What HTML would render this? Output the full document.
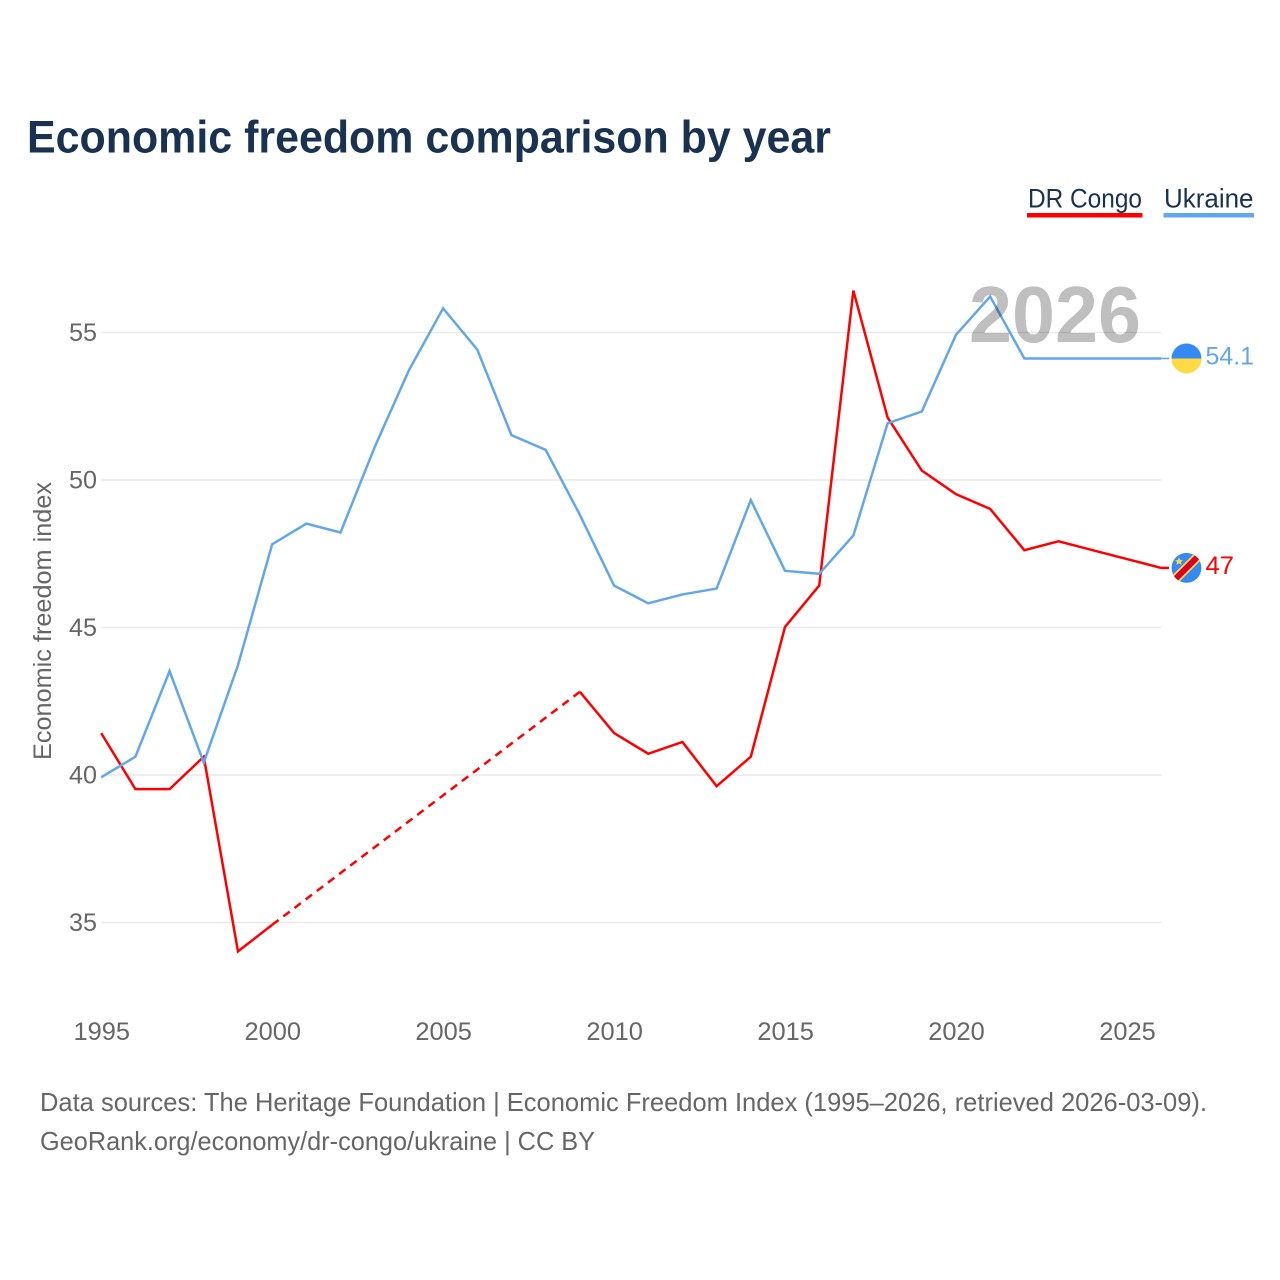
<!DOCTYPE html>
<html lang="en">
<head>
<meta charset="utf-8">
<title>Economic freedom comparison by year</title>
<style>
  html, body { margin: 0; padding: 0; background: #fff; }
  svg { display: block; }
  text { font-family: "Liberation Sans", sans-serif; }
</style>
</head>
<body>
<svg id="chart" width="1280" height="1280" viewBox="0 0 1280 1280" xmlns="http://www.w3.org/2000/svg">
  <rect width="1280" height="1280" fill="#fff"/>
  <text x="27" y="152.500" font-size="45" font-weight="700" fill="#19324f" textLength="804" lengthAdjust="spacingAndGlyphs">Economic freedom comparison by year</text>

  <g>
    <g>
      <text x="1028" y="207.500" font-size="27" fill="#19324f" textLength="114" lengthAdjust="spacingAndGlyphs">DR Congo</text>
      <rect x="1027" y="213" width="115.500" height="4.500" fill="#ff0000"/>
    </g>
    <g>
      <text x="1164" y="207.500" font-size="27" fill="#19324f" textLength="89.500" lengthAdjust="spacingAndGlyphs">Ukraine</text>
      <rect x="1163.500" y="213" width="90.500" height="4.500" fill="#62a6ec"/>
    </g>
  </g>

  <g id="grid"></g>
  <g id="y-ticks"></g>
  <g id="x-ticks"></g>
  <text transform="translate(51,760) rotate(-90)" x="0" y="0" font-size="25" fill="#666" textLength="278" lengthAdjust="spacingAndGlyphs">Economic freedom index</text>

  <g id="series"></g>

  <text x="969" y="342" font-size="80" font-weight="700" fill="#000" fill-opacity="0.25" textLength="172" lengthAdjust="spacingAndGlyphs">2026</text>

  <g id="end-markers"></g>

  <text x="40" y="1111" font-size="26" fill="#666" textLength="1167" lengthAdjust="spacingAndGlyphs">Data sources: The Heritage Foundation | Economic Freedom Index (1995–2026, retrieved 2026-03-09).</text>
  <text x="40" y="1150" font-size="26" fill="#666" textLength="555" lengthAdjust="spacingAndGlyphs">GeoRank.org/economy/dr-congo/ukraine | CC BY</text>
</svg>

<script>
const years = [1995,1996,1997,1998,1999,2000,2001,2002,2003,2004,2005,2006,2007,2008,2009,2010,2011,2012,2013,2014,2015,2016,2017,2018,2019,2020,2021,2022,2023,2024,2025,2026];
const drCongoValues = [41.4,39.5,39.5,40.6,34.0,34.9,null,null,null,null,null,null,null,null,42.8,41.4,40.7,41.1,39.6,40.6,45.0,46.4,56.4,52.1,50.3,49.5,49.0,47.6,47.9,47.6,47.3,47.0];
const ukraineValues = [39.9,40.6,43.5,40.4,43.7,47.8,48.5,48.2,51.1,53.7,55.8,54.4,51.5,51.0,48.8,46.4,45.8,46.1,46.3,49.3,46.9,46.8,48.1,51.9,52.3,54.9,56.2,54.1,54.1,54.1,54.1,54.1];
const xTickYears = [1995,2000,2005,2010,2015,2020,2025];
const yTickValues = [35,40,45,50,55];

const NS = 'http://www.w3.org/2000/svg';
function xScale(year) { return 101.2 + (year - 1995) * 34.19; }
function yScale(value) { return 479.4 - (value - 50) * 29.5; }
function make(tag, attrs, parent) {
  const el = document.createElementNS(NS, tag);
  for (const k in attrs) el.setAttribute(k, attrs[k]);
  parent.appendChild(el);
  return el;
}

const gridGroup = document.getElementById('grid');
const yTickGroup = document.getElementById('y-ticks');
const xTickGroup = document.getElementById('x-ticks');
const seriesGroup = document.getElementById('series');
const markerGroup = document.getElementById('end-markers');

yTickValues.forEach(function (v) {
  const line = make('line', { x1: 101.6, x2: 1161.5, y1: yScale(v) + 0.6, y2: yScale(v) + 0.6, stroke: '#e9e9e9', 'stroke-width': 1.5 }, gridGroup);
  
  
  const label = make('text', { x: 97, y: yScale(v) + 9, 'font-size': 25, fill: '#666', 'text-anchor': 'end', textLength: 28, lengthAdjust: 'spacingAndGlyphs' }, yTickGroup);
  label.textContent = String(v);
  
  
});

xTickYears.forEach(function (y) {
  const label = make('text', { x: xScale(y) + 0.6, y: 1040, 'font-size': 25, fill: '#666', 'text-anchor': 'middle', textLength: 56.5, lengthAdjust: 'spacingAndGlyphs' }, xTickGroup);
  label.textContent = String(y);
  
  
});

function drawSeries(values, color, slug) {
  const group = make('g', {}, seriesGroup);
  
  
  let run = [];
  let lastPoint = null;
  let gapPending = false;
  function flush() {
    if (run.length > 1) {
      const solid = make('polyline', { points: run.join(' '), fill: 'none', stroke: color, 'stroke-width': 2.5, 'stroke-linejoin': 'miter' }, group);
      
      
    }
    run = [];
  }
  values.forEach(function (v, i) {
    if (v === null) {
      flush();
      gapPending = true;
      return;
    }
    const px = xScale(years[i]);
    const py = yScale(v);
    if (gapPending && lastPoint) {
      const dash = make('line', { x1: lastPoint[0], y1: lastPoint[1], x2: px, y2: py, stroke: color, 'stroke-width': 2.5, 'stroke-dasharray': '8 6' }, group);
      
      
    }
    gapPending = false;
    run.push(px + ',' + py);
    lastPoint = [px, py];
  });
  flush();
  const tail = make('line', { x1: lastPoint[0], y1: lastPoint[1], x2: lastPoint[0] + 8, y2: lastPoint[1], stroke: color, 'stroke-width': slug === 'ukraine' ? 1.5 : 2.5 }, group);
  
  
  return lastPoint;
}

const drEnd = drawSeries(drCongoValues, '#ff0000', 'dr-congo');
const uaEnd = drawSeries(ukraineValues, '#62a6ec', 'ukraine');

function endLabel(value, point, color, slug) {
  const t = make('text', { x: 1205.500, y: point[1] + 6, 'font-size': 25, fill: color, textLength: String(value).length > 2 ? 48.5 : 28.5, lengthAdjust: 'spacingAndGlyphs' }, markerGroup);
  t.textContent = String(value);
  
  
}

function ukraineFlag(point) {
  const cx = 1186.5;
  const cy = point[1];
  const g = make('g', {}, markerGroup);
  
  
  make('path', { d: 'M' + (cx - 15) + ' ' + cy + ' A15 15 0 0 1 ' + (cx + 15) + ' ' + cy + ' Z', fill: '#338af3' }, g);
  make('path', { d: 'M' + (cx - 15) + ' ' + cy + ' A15 15 0 0 0 ' + (cx + 15) + ' ' + cy + ' Z', fill: '#ffda44' }, g);
}

function congoFlag(point) {
  const cx = 1186.5;
  const cy = point[1];
  const clip = make('clipPath', { id: 'congo-clip' }, markerGroup);
  make('circle', { cx: cx, cy: cy, r: 15 }, clip);
  const g = make('g', { 'clip-path': 'url(#congo-clip)' }, markerGroup);
  
  
  make('circle', { cx: cx, cy: cy, r: 15, fill: '#338af3' }, g);
  make('line', { x1: cx - 15, y1: cy + 15, x2: cx + 15, y2: cy - 15, stroke: '#ffda44', 'stroke-width': 9.5 }, g);
  make('line', { x1: cx - 15, y1: cy + 15, x2: cx + 15, y2: cy - 15, stroke: '#d80027', 'stroke-width': 6 }, g);
  make('polygon', { points: [
    (cx - 7.5) + ',' + (cy - 10.5), (cx - 6.2) + ',' + (cy - 7.8), (cx - 3.6) + ',' + (cy - 7.6),
    (cx - 5.6) + ',' + (cy - 5.8), (cx - 4.9) + ',' + (cy - 3), (cx - 7.5) + ',' + (cy - 4.5),
    (cx - 10.1) + ',' + (cy - 3), (cx - 9.4) + ',' + (cy - 5.8), (cx - 11.4) + ',' + (cy - 7.6),
    (cx - 8.8) + ',' + (cy - 7.8)
  ].join(' '), fill: '#ffda44' }, g);
}

ukraineFlag(uaEnd);
congoFlag(drEnd);
endLabel(ukraineValues[ukraineValues.length - 1], uaEnd, '#62a6ec', 'ukraine');
endLabel(drCongoValues[drCongoValues.length - 1], drEnd, '#ff0000', 'dr-congo');
</script>
</body>
</html>
